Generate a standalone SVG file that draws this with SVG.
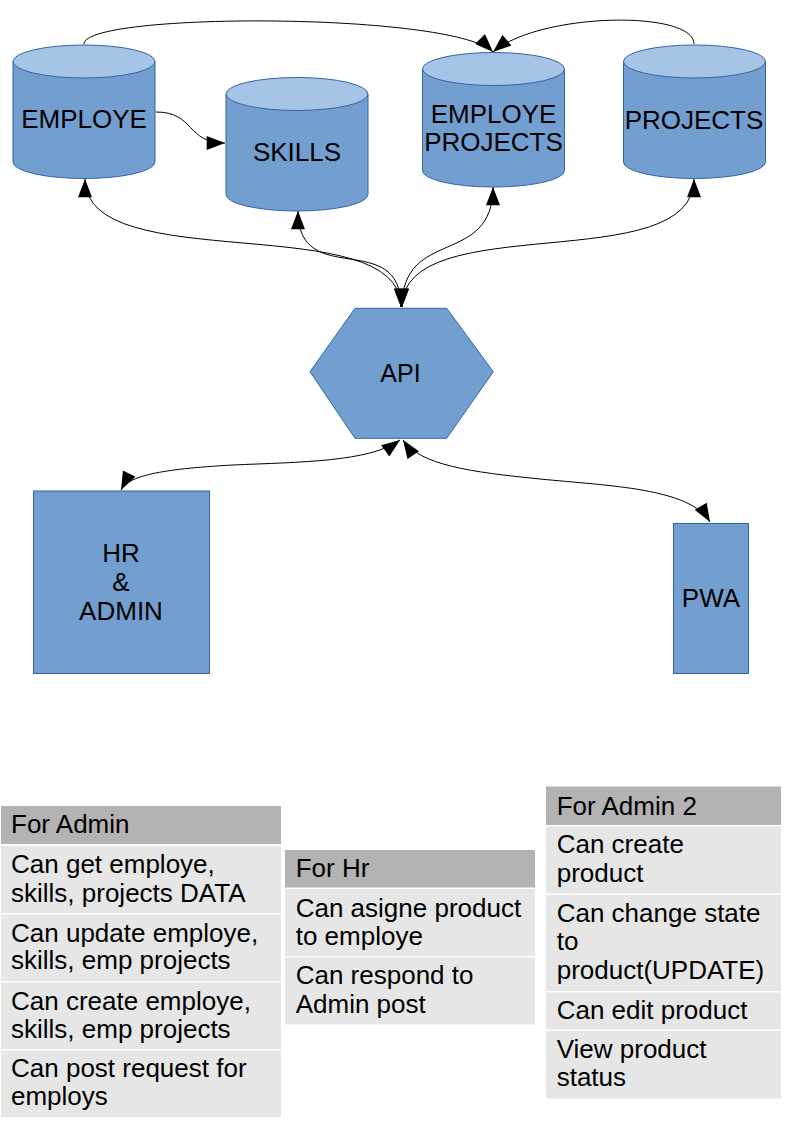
<svg xmlns="http://www.w3.org/2000/svg" width="794" height="1123" viewBox="0 0 794 1123">
<style>
.shape{fill:#729fcf;stroke:#3465a4;stroke-width:1}
.top{fill:#a6c4e6;stroke:#3465a4;stroke-width:1}
.lbl{font-family:"Liberation Sans",Arial,sans-serif;font-size:26px;fill:#000;text-anchor:middle}
.t{font-family:"Liberation Sans",Arial,sans-serif;font-size:26px;fill:#000}
.hd{fill:#b3b3b3}
.row{fill:#e6e6e6}
.con{fill:none;stroke:#000;stroke-width:1}
</style>
<defs>
<marker id="ah" markerUnits="userSpaceOnUse" markerWidth="19" markerHeight="14" refX="17" refY="6.5" orient="auto-start-reverse" viewBox="0 0 17 13">
<path d="M0,0 L17,6.5 L0,13 Z" fill="#000"/>
</marker>
</defs>
<rect width="794" height="1123" fill="#fff"/>

<g id="connectors">
<path class="con" d="M84,44 C84,12 453,12 493,52" marker-end="url(#ah)"/>
<path class="con" d="M694,44 C694,10 540,12 493,52" marker-end="url(#ah)"/>
<path class="con" d="M156,112 C195,112 186,143 225,143" marker-end="url(#ah)"/>
<path class="con" d="M85,179 C85,279 401,207 401,307" marker-start="url(#ah)" marker-end="url(#ah)"/>
<path class="con" d="M298,211 C298,291 401,227 401,307" marker-start="url(#ah)" marker-end="url(#ah)"/>
<path class="con" d="M493,187 C493,267 402,227 402,307" marker-start="url(#ah)" marker-end="url(#ah)"/>
<path class="con" d="M694,179 C694,279 402,207 402,307" marker-start="url(#ah)" marker-end="url(#ah)"/>
<path class="con" d="M121,490 C128,476 160,469 233,465 C300,462 370,462 400,440" marker-start="url(#ah)" marker-end="url(#ah)"/>
<path class="con" d="M403,440 C420,465 470,472 540,479 C610,486 690,488 710,522" marker-start="url(#ah)" marker-end="url(#ah)"/>
</g>

<g id="employe">
<path class="shape" d="M13,61.5 L13,162 A71,16.5 0 0 0 155,162 L155,61.5 Z"/>
<ellipse class="top" cx="84" cy="61.5" rx="71" ry="16.5"/>
<text class="lbl" x="84" y="128">EMPLOYE</text>
</g>

<g id="skills">
<path class="shape" d="M226,94 L226,194.5 A71,16.5 0 0 0 368,194.5 L368,94 Z"/>
<ellipse class="top" cx="297" cy="94" rx="71" ry="16.5"/>
<text class="lbl" x="297" y="160.7">SKILLS</text>
</g>

<g id="employe-projects">
<path class="shape" d="M422.5,69 L422.5,170.5 A71,16.5 0 0 0 564.5,170.5 L564.5,69 Z"/>
<ellipse class="top" cx="493.5" cy="69" rx="71" ry="16.5"/>
<text class="lbl" x="493.5" y="122.7">EMPLOYE</text>
<text class="lbl" x="493.5" y="150.7">PROJECTS</text>
</g>

<g id="projects">
<path class="shape" d="M623.5,61.5 L623.5,162 A71,16.5 0 0 0 765.5,162 L765.5,61.5 Z"/>
<ellipse class="top" cx="694.5" cy="61.5" rx="71" ry="16.5"/>
<text class="lbl" x="694" y="129">PROJECTS</text>
</g>

<g id="api">
<polygon class="shape" points="355,308.3 446.7,308.3 493.3,371.7 446.7,438.3 355,438.3 310,371.7"/>
<text class="lbl" x="400.5" y="381.7" style="font-size:25px">API</text>
</g>

<g id="hr-admin">
<rect class="shape" x="33.5" y="491" width="176" height="182.5"/>
<text class="lbl" x="121" y="561.7">HR</text>
<text class="lbl" x="121" y="591">&amp;</text>
<text class="lbl" x="121" y="620">ADMIN</text>
</g>

<g id="pwa">
<rect class="shape" x="673.5" y="523.5" width="75" height="150"/>
<text class="lbl" x="711" y="606.7">PWA</text>
</g>

<g id="table-admin">
<rect class="hd" x="1" y="806" width="280" height="38"/>
<rect class="row" x="1" y="846" width="280" height="67"/>
<rect class="row" x="1" y="914.5" width="280" height="66.5"/>
<rect class="row" x="1" y="982.5" width="280" height="66.5"/>
<rect class="row" x="1" y="1050.5" width="280" height="67"/>
<text class="t" x="11" y="833">For Admin</text>
<text class="t" x="11" y="873">Can get employe,</text>
<text class="t" x="11" y="901.7">skills, projects DATA</text>
<text class="t" x="11" y="941.7">Can update employe,</text>
<text class="t" x="11" y="969.3">skills, emp projects</text>
<text class="t" x="11" y="1010">Can create employe,</text>
<text class="t" x="11" y="1037.7">skills, emp projects</text>
<text class="t" x="11" y="1076.7">Can post request for</text>
<text class="t" x="11" y="1105">employs</text>
</g>

<g id="table-hr">
<rect class="hd" x="285" y="850" width="250" height="37.5"/>
<rect class="row" x="285" y="889" width="250" height="67"/>
<rect class="row" x="285" y="957.5" width="250" height="67"/>
<text class="t" x="295.7" y="876.7">For Hr</text>
<text class="t" x="295.7" y="916.7">Can asigne product</text>
<text class="t" x="295.7" y="945">to employe</text>
<text class="t" x="295.7" y="984">Can respond to</text>
<text class="t" x="295.7" y="1013.3">Admin post</text>
</g>

<g id="table-admin2">
<rect class="hd" x="546" y="786.5" width="235" height="38.5"/>
<rect class="row" x="546" y="826.5" width="235" height="67"/>
<rect class="row" x="546" y="895" width="235" height="96"/>
<rect class="row" x="546" y="992.5" width="235" height="37"/>
<rect class="row" x="546" y="1031" width="235" height="67.5"/>
<text class="t" x="556.7" y="815">For Admin 2</text>
<text class="t" x="556.7" y="853.3">Can create</text>
<text class="t" x="556.7" y="881.7">product</text>
<text class="t" x="556.7" y="921.7">Can change state</text>
<text class="t" x="556.7" y="950">to</text>
<text class="t" x="556.7" y="979">product(UPDATE)</text>
<text class="t" x="556.7" y="1019.3">Can edit product</text>
<text class="t" x="556.7" y="1058.3">View product</text>
<text class="t" x="556.7" y="1086">status</text>
</g>
</svg>
